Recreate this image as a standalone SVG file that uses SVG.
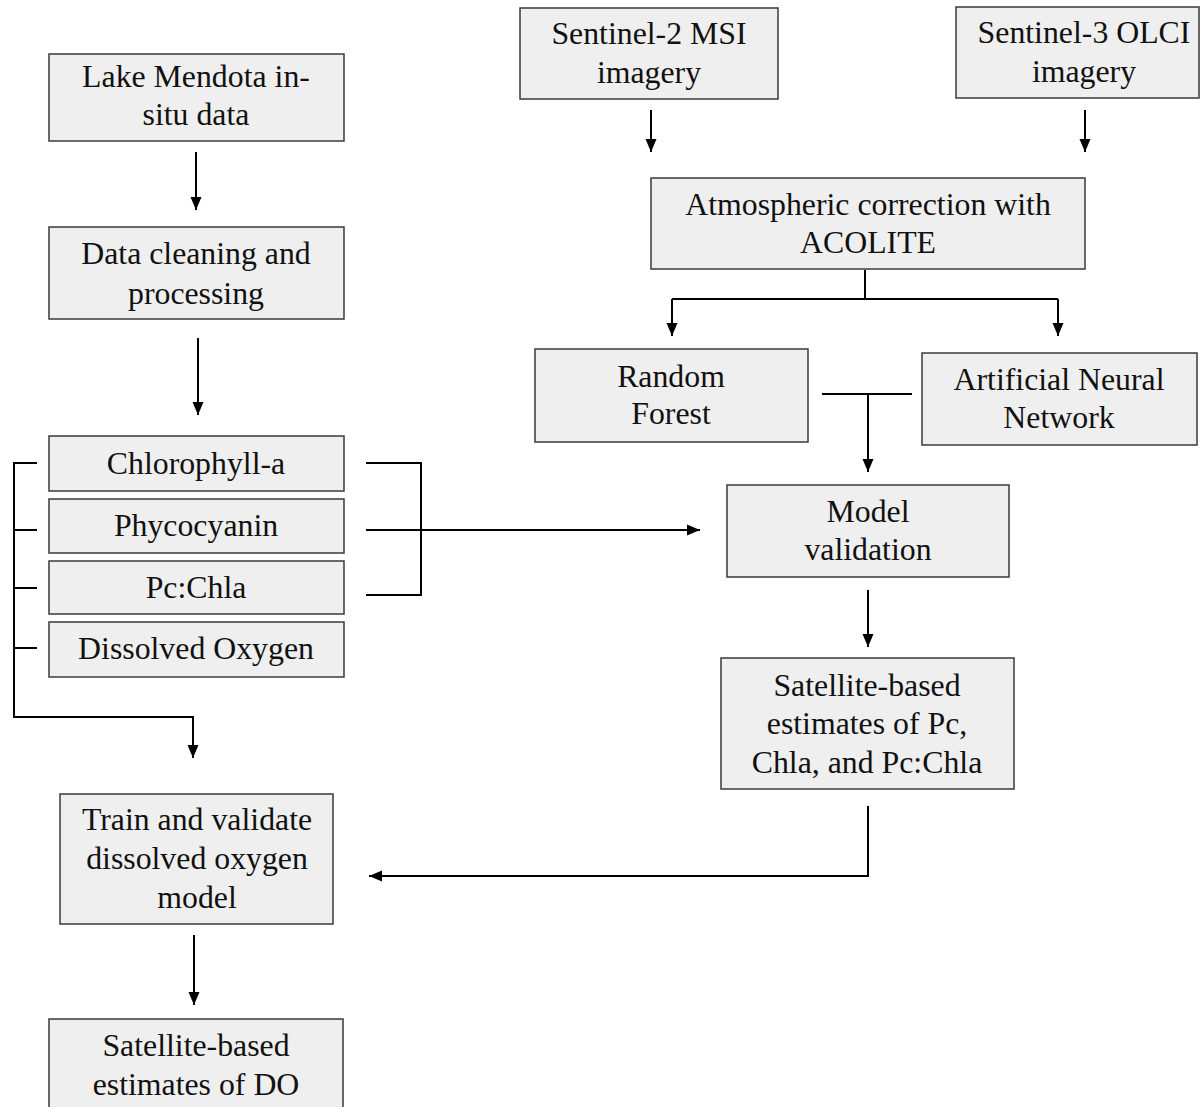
<svg xmlns="http://www.w3.org/2000/svg" width="1201" height="1107" viewBox="0 0 1201 1107">
<style>
.box{fill:#efefef;stroke:#3a3a3a;stroke-width:1.5}
.t{font-family:"Liberation Serif","Times New Roman",serif;font-size:31.8px;fill:#111;text-anchor:middle}
.c{fill:none;stroke:#000;stroke-width:2}
</style>
<defs>
<marker id="ah" markerUnits="userSpaceOnUse" markerWidth="14" markerHeight="14" viewBox="0 0 14 14" refX="13" refY="7" orient="auto">
<path d="M0,1.5 L13,7 L0,12.5 Z" fill="#000"/>
</marker>
</defs>
<rect width="1201" height="1107" fill="#fff"/>
<g id="connectors">
<path class="c" d="M196,152 V210" marker-end="url(#ah)"/>
<path class="c" d="M198,338 V415" marker-end="url(#ah)"/>
<path class="c" d="M651,110 V152" marker-end="url(#ah)"/>
<path class="c" d="M1085,110 V152" marker-end="url(#ah)"/>
<path class="c" d="M865,270 V299"/>
<path class="c" d="M672,299 H1058"/>
<path class="c" d="M672,299 V336" marker-end="url(#ah)"/>
<path class="c" d="M1058,299 V336" marker-end="url(#ah)"/>
<path class="c" d="M822,394 H912"/>
<path class="c" d="M868,394 V472" marker-end="url(#ah)"/>
<path class="c" d="M868,590 V647" marker-end="url(#ah)"/>
<path class="c" d="M868,806 V876 H369" stroke-width="2.5" marker-end="url(#ah)"/>
<path class="c" d="M194,935 V1005" marker-end="url(#ah)"/>
<path class="c" d="M366,463 H421 V595 H366"/>
<path class="c" d="M366,530 H700" marker-end="url(#ah)"/>
<path class="c" d="M37,463 H14 V717 H193 V758" marker-end="url(#ah)"/>
<path class="c" d="M14,530 H37 M14,588 H37 M14,648 H37"/>
</g>
<g id="lake"><rect class="box" x="49" y="54" width="295" height="87"/><text class="t" x="196" y="87">Lake Mendota in-</text><text class="t" x="196" y="125">situ data</text></g>
<g id="cleaning"><rect class="box" x="49" y="227" width="295" height="92"/><text class="t" x="196" y="264">Data cleaning and</text><text class="t" x="196" y="304">processing</text></g>
<g id="chla"><rect class="box" x="49" y="436" width="295" height="55"/><text class="t" x="196" y="474">Chlorophyll-a</text></g>
<g id="pc"><rect class="box" x="49" y="499" width="295" height="54"/><text class="t" x="196" y="536">Phycocyanin</text></g>
<g id="pcchla"><rect class="box" x="49" y="561" width="295" height="53"/><text class="t" x="196" y="598">Pc:Chla</text></g>
<g id="do"><rect class="box" x="49" y="622" width="295" height="55"/><text class="t" x="196" y="659">Dissolved Oxygen</text></g>
<g id="s2"><rect class="box" x="520" y="8" width="258" height="91"/><text class="t" x="649" y="44">Sentinel-2 MSI</text><text class="t" x="649" y="83">imagery</text></g>
<g id="s3"><rect class="box" x="956" y="7" width="243" height="91"/><text class="t" x="1084" y="43">Sentinel-3 OLCI</text><text class="t" x="1084" y="82">imagery</text></g>
<g id="acolite"><rect class="box" x="651" y="178" width="434" height="91"/><text class="t" x="868" y="215">Atmospheric correction with</text><text class="t" x="868" y="253">ACOLITE</text></g>
<g id="rf"><rect class="box" x="535" y="349" width="273" height="93"/><text class="t" x="671" y="387">Random</text><text class="t" x="671" y="424">Forest</text></g>
<g id="ann"><rect class="box" x="922" y="353" width="275" height="92"/><text class="t" x="1059" y="390">Artificial Neural</text><text class="t" x="1059" y="428">Network</text></g>
<g id="validation"><rect class="box" x="727" y="485" width="282" height="92"/><text class="t" x="868" y="522">Model</text><text class="t" x="868" y="560">validation</text></g>
<g id="estimates"><rect class="box" x="721" y="658" width="293" height="131"/><text class="t" x="867" y="696">Satellite-based</text><text class="t" x="867" y="734">estimates of Pc,</text><text class="t" x="867" y="773">Chla, and Pc:Chla</text></g>
<g id="train"><rect class="box" x="60" y="794" width="273" height="130"/><text class="t" x="197" y="830">Train and validate</text><text class="t" x="197" y="869">dissolved oxygen</text><text class="t" x="197" y="908">model</text></g>
<g id="doest"><rect class="box" x="49" y="1019" width="294" height="100"/><text class="t" x="196" y="1056">Satellite-based</text><text class="t" x="196" y="1095">estimates of DO</text></g>
</svg>
